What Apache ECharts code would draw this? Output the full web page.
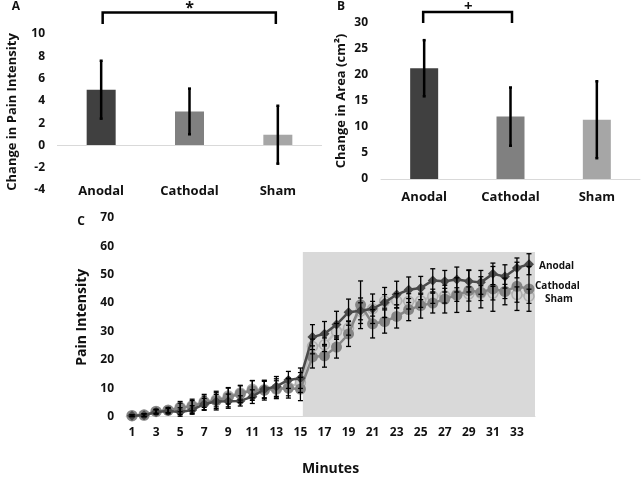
<!DOCTYPE html>
<html><head><meta charset="utf-8">
<script src="https://cdn.jsdelivr.net/npm/echarts@6/dist/echarts.min.js"></script>
<style>html,body{margin:0;padding:0;background:#fff}#c{width:642px;height:478px}</style>
</head><body><div id="c"></div>
<script>
// ---- data ----
const groups = ['Anodal', 'Cathodal', 'Sham'];
const painChange = [5.0, 3.05, 0.96];
const painChangeErr = [2.6, 2.05, 2.6];
const areaChange = [21.3, 12.0, 11.4];
const areaChangeErr = [5.4, 5.6, 7.4];

const minutes = [1,2,3,4,5,6,7,8,9,10,11,12,13,14,15,16,17,18,19,20,21,22,23,24,25,26,27,28,29,30,31,32,33,34];
const anodal = [0.3,0.4,1.6,1.9,1.6,2.3,4.4,5.3,5.4,5.5,7.0,9.6,10.6,12.9,13.5,28.0,29.2,32.4,36.8,37.3,38.0,40.2,43.0,44.7,45.3,48.0,47.7,48.3,47.7,47.3,50.3,49.4,52.4,53.7];
const anodalErr = [0.3,0.5,0.8,1.0,1.5,1.5,2.0,2.5,2.5,1.8,2.4,3.0,3.5,3.0,3.6,4.4,4.3,4.7,4.6,4.5,5.2,5.3,4.7,4.5,4.1,4.1,3.8,4.4,3.8,4.2,3.8,4.1,3.5,3.7];
const cathodal = [0.3,0.5,1.8,2.2,3.0,3.6,5.0,5.6,6.8,8.0,9.2,9.3,9.8,10.0,9.7,21.0,21.4,24.5,29.1,39.4,32.7,33.5,35.3,37.7,39.1,40.0,41.4,42.8,44.4,43.8,45.0,44.1,45.9,45.0];
const cathodalErr = [0.3,0.5,0.8,1.0,2.3,2.5,2.8,3.3,3.4,3.0,3.5,3.5,3.5,3.5,4.1,3.9,4.0,3.9,4.4,8.4,5.0,4.1,4.1,3.9,4.4,3.5,4.9,6.1,7.3,5.5,7.9,4.7,8.5,7.9];
const sham = [0.3,0.5,1.8,2.2,3.2,3.8,5.2,5.9,7.2,8.3,9.6,9.4,9.6,10.3,12.0,24.7,25.3,30.0,31.2,37.1,38.0,40.6,40.8,40.6,40.8,42.4,42.6,43.0,43.2,43.5,43.5,44.1,43.0,42.4];
const shamErr = [0.3,0.4,0.6,0.8,1.5,1.8,2.0,2.5,2.8,2.5,3.0,3.0,3.0,3.0,3.5,2.6,2.4,2.8,2.5,3.0,2.6,2.4,2.5,2.7,2.3,2.5,2.6,2.4,2.5,2.6,2.4,2.5,2.7,2.5];
const minuteTicks = [1,3,5,7,9,11,13,15,17,19,21,23,25,27,29,31,33];
const stimStart = 15.2, stimEnd = 34.5, stimTop = 58;

// ---- styling ----
const FONT = '"Open Sans", "Noto Sans", sans-serif';
const TXT = '#111';
const barColors = ['#404040', '#808080', '#a6a6a6'];
const lineGray = '#d9d9d9';

const chart = echarts.init(document.getElementById('c'), null, {renderer: 'canvas'});

function errSeries(xi, yi, data, cap, lw, z) {
  return {
    type: 'custom', xAxisIndex: xi, yAxisIndex: yi, data: data, z: z || 10, silent: true,
    renderItem: function (params, api) {
      const x = api.value(0), y = api.value(1), e = api.value(2);
      const t = api.coord([x, y + e]), b = api.coord([x, y - e]);
      const st = {stroke: '#000', lineWidth: lw};
      return {type: 'group', children: [
        {type: 'line', shape: {x1: t[0], y1: t[1], x2: b[0], y2: b[1]}, style: st},
        {type: 'line', shape: {x1: t[0] - cap, y1: t[1], x2: t[0] + cap, y2: t[1]}, style: st},
        {type: 'line', shape: {x1: b[0] - cap, y1: b[1], x2: b[0] + cap, y2: b[1]}, style: st}
      ]};
    }
  };
}

const tickLbl = {fontFamily: FONT, fontWeight: 'bold', fontSize: 12, color: TXT};
const nameSt = {fontFamily: FONT, fontWeight: 'bold', fontSize: 13, color: TXT};
const noTick = {show: false};

const option = {
  animation: false,
  backgroundColor: '#fff',
  grid: [
    {left: 57, top: 34, width: 265, height: 156, outerBoundsMode: 'none', containLabel: false},
    {left: 381, top: 23, width: 259, height: 156, outerBoundsMode: 'none', containLabel: false},
    {left: 126, top: 218, width: 409, height: 198.5, outerBoundsMode: 'none', containLabel: false}
  ],
  xAxis: [
    {gridIndex: 0, type: 'category', data: groups, axisLine: {show: false, onZero: false}, axisTick: noTick,
      axisLabel: Object.assign({}, tickLbl, {fontSize: 13, margin: 1, verticalAlign: 'middle'})},
    {gridIndex: 1, type: 'category', data: groups, axisLine: {lineStyle: {color: lineGray}}, axisTick: noTick,
      axisLabel: Object.assign({}, tickLbl, {fontSize: 13, margin: 12})},
    {gridIndex: 2, type: 'value', min: 0.5, max: 34.5, splitLine: {show: false}, axisTick: noTick, minorTick: noTick,
      axisLine: {onZero: false, lineStyle: {color: lineGray}},
      axisLabel: Object.assign({}, tickLbl, {margin: 10, customValues: minuteTicks}),
      name: 'Minutes', nameLocation: 'middle', nameGap: 46, nameTextStyle: Object.assign({}, nameSt, {fontSize: 14})}
  ],
  yAxis: [
    {gridIndex: 0, type: 'value', min: -4, max: 10, interval: 2, splitLine: {show: false}, axisLine: {show: false}, axisTick: noTick,
      axisLabel: Object.assign({}, tickLbl, {margin: 12}),
      name: 'Change in Pain Intensity', nameLocation: 'middle', nameGap: 38, nameRotate: 90, nameTextStyle: nameSt},
    {gridIndex: 1, type: 'value', min: 0, max: 30, interval: 5, splitLine: {show: false}, axisLine: {show: false}, axisTick: noTick,
      axisLabel: Object.assign({}, tickLbl, {margin: 13}),
      name: 'Change in Area (cm\u00B2)', nameLocation: 'middle', nameGap: 33, nameRotate: 90, nameTextStyle: nameSt},
    {gridIndex: 2, type: 'value', min: 0, max: 70, interval: 10, splitLine: {show: false}, axisLine: {show: false}, axisTick: noTick,
      axisLabel: Object.assign({}, tickLbl, {margin: 12}),
      name: 'Pain Intensity', nameLocation: 'middle', nameGap: 37, nameRotate: 90, nameTextStyle: Object.assign({}, nameSt, {fontSize: 14})}
  ],
  series: [
    {type: 'bar', xAxisIndex: 0, yAxisIndex: 0, barWidth: 29,
      data: painChange.map((v, i) => ({value: v, itemStyle: {color: barColors[i]}})),
      markLine: {silent: true, symbol: 'none', label: {show: false}, lineStyle: {color: lineGray, type: 'solid', width: 1.2}, data: [{yAxis: 0}]}},
    errSeries(0, 0, groups.map((g, i) => [i, painChange[i], painChangeErr[i]]), 1.5, 2.5),
    {type: 'bar', xAxisIndex: 1, yAxisIndex: 1, barWidth: 28,
      data: areaChange.map((v, i) => ({value: v, itemStyle: {color: barColors[i]}}))},
    errSeries(1, 1, groups.map((g, i) => [i, areaChange[i], areaChangeErr[i]]), 1.5, 2.5),

    {type: 'line', name: 'Sham', xAxisIndex: 2, yAxisIndex: 2, z: 3,
      data: minutes.map((m, i) => [m, sham[i]]),
      symbol: 'circle', symbolSize: 10, lineStyle: {color: '#bdbdbd', width: 2.5},
      itemStyle: {color: '#d0d0d0', borderColor: '#b0b0b0', borderWidth: 1.5},
      markArea: {silent: true, label: {show: false}, itemStyle: {color: '#d9d9d9'}, data: [[{coord: [stimStart, 0]}, {coord: [stimEnd, stimTop]}]]},
      endLabel: {show: true, formatter: 'Sham', fontFamily: FONT, fontWeight: 'bold', fontSize: 10, color: TXT, distance: 16, offset: [0, 3]}},
    {type: 'line', name: 'Cathodal', xAxisIndex: 2, yAxisIndex: 2, z: 4,
      data: minutes.map((m, i) => [m, cathodal[i]]),
      symbol: 'circle', symbolSize: 11, lineStyle: {color: '#858585', width: 2.5},
      itemStyle: {color: '#858585'},
      endLabel: {show: true, formatter: 'Cathodal', fontFamily: FONT, fontWeight: 'bold', fontSize: 10, color: TXT, distance: 6, offset: [0, -3]}},
    {type: 'line', name: 'Anodal', xAxisIndex: 2, yAxisIndex: 2, z: 5,
      data: minutes.map((m, i) => [m, anodal[i]]),
      symbol: 'diamond', symbolSize: 10, lineStyle: {color: '#4a4a4a', width: 2.5},
      itemStyle: {color: '#4a4a4a'},
      endLabel: {show: true, formatter: 'Anodal', fontFamily: FONT, fontWeight: 'bold', fontSize: 10, color: TXT, distance: 10, offset: [0, 2]}},
    errSeries(2, 2, minutes.map((m, i) => [m, sham[i], shamErr[i]]), 2.5, 1.2, 6),
    errSeries(2, 2, minutes.map((m, i) => [m, cathodal[i], cathodalErr[i]]), 2.5, 1.3, 6),
    errSeries(2, 2, minutes.map((m, i) => [m, anodal[i], anodalErr[i]]), 2.5, 1.3, 6)
  ]
};
chart.setOption(option);

// annotations (brackets, significance marks, panel letters)
const pA0 = chart.convertToPixel({xAxisIndex: 0}, 0);
const pA2 = chart.convertToPixel({xAxisIndex: 0}, 2);
const pB0 = chart.convertToPixel({xAxisIndex: 1}, 0);
const pB1 = chart.convertToPixel({xAxisIndex: 1}, 1);
const dag = chart.convertToPixel({gridIndex: 2}, [16, 51.5]);
const txt = (x, y, s, size, align) => ({type: 'text', x: x, y: y, style: {text: s, fontFamily: FONT, fontWeight: 'bold', fontSize: size, fill: TXT, align: align || 'center', verticalAlign: 'middle'}});
chart.setOption({graphic: [
  {type: 'polyline', shape: {points: [[pA0 + 1.5, 24], [pA0 + 1.5, 12.5], [pA2 - 2, 12.5], [pA2 - 2, 24]]}, style: {stroke: '#000', lineWidth: 2.5, fill: null}},
  {type: 'polyline', shape: {points: [[pB0 - 1, 23], [pB0 - 1, 12], [pB1 + 1.5, 12], [pB1 + 1.5, 23]]}, style: {stroke: '#000', lineWidth: 2.5, fill: null}},
  txt((pA0 + pA2) / 2, 8, '*', 16),
  txt((pB0 + pB1) / 2 + 1, 7, '+', 15),
  txt(dag[0], dag[1], '\u2021', 14),
  txt(16, 7, 'A', 12),
  txt(341, 7, 'B', 12),
  txt(81, 222, 'C', 12)
]});
</script></body></html>
